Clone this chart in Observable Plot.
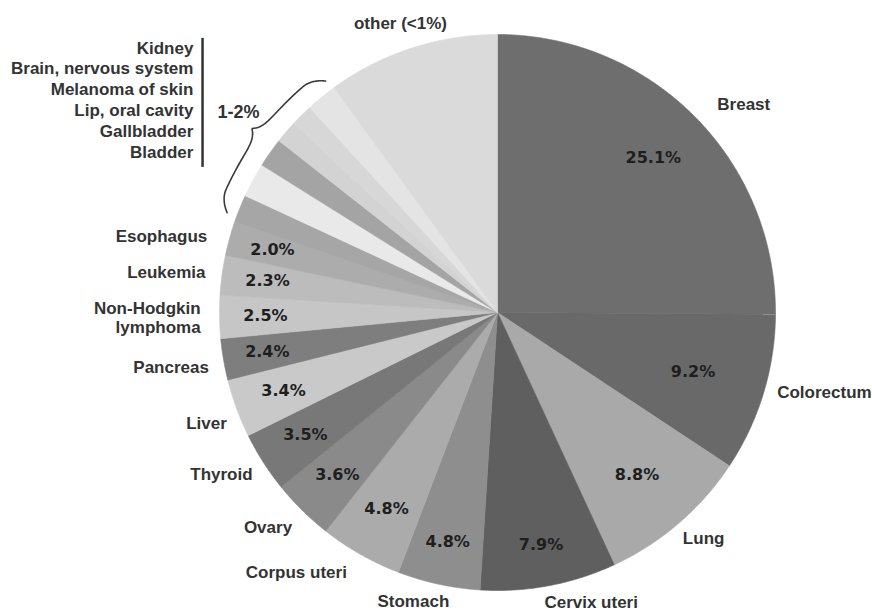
<!DOCTYPE html>
<html><head><meta charset="utf-8">
<script src="https://cdn.jsdelivr.net/npm/d3@7"></script>
<script src="https://cdn.jsdelivr.net/npm/@observablehq/plot@0.6"></script>
<style>
body{margin:0;background:#fff}
#chart{width:872px;height:613px}
</style>
</head><body><div id="chart"></div>
<script>
// ---- data ----
const names = ["Breast","Colorectum","Lung","Cervix uteri","Stomach","Corpus uteri","Ovary","Thyroid","Liver","Pancreas","Non-Hodgkin\nlymphoma","Leukemia","Esophagus","Bladder","Gallbladder","Lip, oral cavity","Melanoma of skin","Brain, nervous system","Kidney","other (<1%)"];
const values = [25.1,9.2,8.8,7.9,4.8,4.8,3.6,3.5,3.4,2.4,2.5,2.3,2.0,1.6,2.0,1.7,1.3,1.3,1.8,10.0];
const pctCount = 13;          // slices labelled with their percentage
const groupFirst = 13, groupLast = 18; // slices gathered under "1-2%"
const groupLabel = "1-2%";

// ---- style / layout ----
const palette = ["#6e6e6e","#696969","#a9a9a9","#5f5f5f","#8e8e8e","#ababab","#8a8a8a","#787878","#c9c9c9","#7e7e7e","#c6c6c6","#bcbcbc","#acacac","#a6a6a6","#e9e9e9","#a4a4a4","#d3d3d3","#d7d7d7","#e4e4e4","#dadada"];
const labelNudge  = [4.6,-3.3,-1.7,-7.3,4.0,8.3,2.3,2.3,-0.7,0.3,-0.1,-0.8,-2.6];
const labelRadius = [1.16,1.21,1.10,1.095,1.082,1.18,1.13,1.15,1.12,1.19,1.068,1.20,1.24];
const labelAnchor = ["middle","middle","middle","middle","middle","middle","middle","middle","middle","middle","end","middle","middle"];
const otherNudge = -0.5, otherRadius = 1.10;
const pctRadius = [0.79,0.735,0.77,0.85,0.845,0.81,0.82,0.82,0.82,0.84,0.835,0.835,0.84];

const arcs = d3.pie().sort(null).value(d => d)(values);
const deg = Math.PI / 180;

// slice polygons
const poly = [];
arcs.forEach((a, i) => {
  poly.push({name: names[i], x: 0, y: 0});
  const n = Math.max(2, Math.ceil((a.endAngle - a.startAngle) / (0.4 * deg)));
  for (let k = 0; k <= n; k++) {
    const t = a.startAngle + (a.endAngle - a.startAngle) * k / n;
    poly.push({name: names[i], x: Math.sin(t), y: Math.cos(t)});
  }
  poly.push({name: names[i], x: 0, y: 0});
});

const mid = a => (a.startAngle + a.endAngle) / 2;
const fmt = d3.format(".1f");

// percent labels
const pct = arcs.slice(0, pctCount).map((a, i) => ({
  text: fmt(values[i]) + "%",
  x: pctRadius[i] * Math.sin(mid(a)),
  y: pctRadius[i] * Math.cos(mid(a))
}));

// outer labels
const outer = arcs.slice(0, pctCount).map((a, i) => {
  const t = mid(a) + labelNudge[i] * deg;
  return {text: names[i], anchor: labelAnchor[i], x: labelRadius[i] * Math.sin(t), y: labelRadius[i] * Math.cos(t)};
});
{
  const a = arcs[arcs.length - 1];
  const t = mid(a) + otherNudge * deg;
  outer.push({text: names[names.length - 1], anchor: "middle", x: otherRadius * Math.sin(t), y: otherRadius * Math.cos(t)});
}
const outerMiddle = outer.filter(d => d.anchor === "middle");
const outerEnd = outer.filter(d => d.anchor === "end");

// group list (top: last slice of group)
const groupNames = names.slice(groupFirst, groupLast + 1).reverse();
const listX = -1.094, listTop = 0.951, listStep = 0.0751;
const groupList = groupNames.map((n, i) => ({text: n, x: listX, y: listTop - i * listStep}));

// brace following the group's arc
const th1 = arcs[groupFirst].startAngle + 1.2 * deg;
const th2 = arcs[groupLast].endAngle - 0.6 * deg;
const brace = d3.range(0, 201).map(k => {
  const u = k / 100 - 1;
  const au = Math.abs(u);
  const r = 1.072 + 0.032 * Math.exp(-au / 0.08) - 0.035 * Math.pow(Math.max(0, (au - 0.75) / 0.25), 2);
  const t = th1 + (th2 - th1) * (k / 200);
  return {x: r * Math.sin(t), y: r * Math.cos(t)};
});

const outerFont = {fontFamily: "Liberation Sans, Arial, sans-serif", fontWeight: "bold", fontSize: 17, fill: "#333"};

const chart = Plot.plot({
  width: 872, height: 613,
  marginLeft: 219, marginRight: 97, marginTop: 34, marginBottom: 23,
  x: {domain: [-1, 1], axis: null},
  y: {domain: [-1, 1], axis: null},
  color: {domain: names, range: palette},
  style: {background: "#fff", overflow: "visible"},
  marks: [
    Plot.line(poly, {x: "x", y: "y", z: "name", fill: "name", stroke: "name", strokeWidth: 0.6, curve: "linear"}),
    Plot.text(pct, {x: "x", y: "y", text: "text", fontFamily: "DejaVu Sans, Verdana, sans-serif", fontWeight: "bold", fontSize: 16, fill: "#1e1e1e"}),
    Plot.text(outerMiddle, {x: "x", y: "y", text: "text", textAnchor: "middle", lineHeight: 1.12, ...outerFont}),
    Plot.text(outerEnd, {x: "x", y: "y", text: "text", textAnchor: "end", lineHeight: 1.12, ...outerFont}),
    Plot.text(groupList, {x: "x", y: "y", text: "text", textAnchor: "end", ...outerFont}),
    Plot.ruleX([-1.061], {y1: 0.986, y2: 0.522, stroke: "#333", strokeWidth: 2.5}),
    Plot.text([groupLabel], {x: -0.932, y: 0.719, text: d => d, ...outerFont, fontSize: 18}),
    Plot.line(brace, {x: "x", y: "y", stroke: "#3a3a3a", strokeWidth: 1.6, curve: "basis"})
  ]
});
document.getElementById("chart").appendChild(chart);
</script>
</body></html>
